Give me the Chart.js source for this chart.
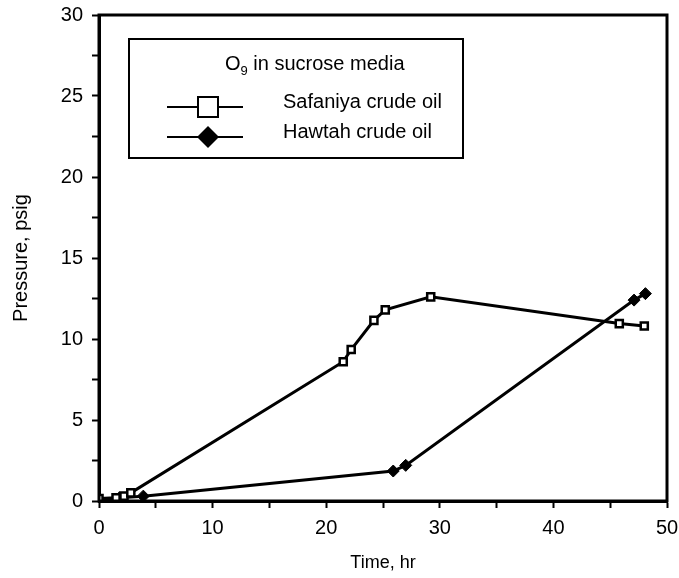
<!DOCTYPE html>
<html>
<head>
<meta charset="utf-8">
<script src="https://cdn.jsdelivr.net/npm/chart.js@4/dist/chart.umd.min.js"></script>
<style>
  html, body { margin: 0; padding: 0; background: #fff; }
  #wrap { width: 679px; height: 578px; }
</style>
</head>
<body>
<div id="wrap"><canvas id="chart" width="679" height="578"></canvas></div>
<script>
// --- dados ---
const seriesNames = ['Safaniya crude oil', 'Hawtah crude oil'];
const legendTitle = 'O';
const legendSub = '9';
const legendTitleRest = ' in sucrose media';

const safaniyaTime = [0, 1.5, 2.2, 2.8, 21.5, 22.2, 24.2, 25.2, 29.2, 45.8, 48.0];
const safaniyaPressure = [0.15, 0.2, 0.3, 0.5, 8.6, 9.35, 11.15, 11.8, 12.6, 10.95, 10.8];

const hawtahTime = [0, 1.8, 3.9, 25.9, 27.0, 47.1, 48.1];
const hawtahPressure = [0.1, 0.2, 0.3, 1.85, 2.2, 12.4, 12.8];

const xTickLabels = [0, 10, 20, 30, 40, 50];
const yTickLabels = [0, 5, 10, 15, 20, 25, 30];

const FONT = '"Liberation Sans", Arial, Helvetica, sans-serif';

function toPoints(xs, ys) {
    return xs.map((x, i) => ({ x: x, y: ys[i] }));
}

// moldura em volta da área do gráfico + legenda desenhada à mão
const framePlugin = {
    id: 'frame',
    afterDatasetsDraw(chart) {
        const { ctx, chartArea: a } = chart;
        ctx.save();
        ctx.strokeStyle = '#000';
        ctx.lineWidth = 3;
        ctx.strokeRect(a.left, a.top, a.right - a.left, a.bottom - a.top);
        ctx.restore();
    },
    afterDraw(chart) {
        const ctx = chart.ctx;
        ctx.save();
        // caixa
        ctx.strokeStyle = '#000';
        ctx.lineWidth = 2;
        ctx.strokeRect(129, 39, 334, 119);

        // título com subscrito
        ctx.fillStyle = '#000';
        ctx.textBaseline = 'alphabetic';
        ctx.font = '20px ' + FONT;
        let x = 225;
        ctx.fillText(legendTitle, x, 70);
        x += ctx.measureText(legendTitle).width;
        ctx.font = '13px ' + FONT;
        ctx.fillText(legendSub, x, 75);
        x += ctx.measureText(legendSub).width;
        ctx.font = '20px ' + FONT;
        ctx.fillText(legendTitleRest, x, 70);

        // linhas de amostra
        const rows = [107, 137];
        ctx.lineWidth = 2;
        rows.forEach(y => {
            ctx.beginPath();
            ctx.moveTo(167, y);
            ctx.lineTo(243, y);
            ctx.stroke();
        });
        // quadrado aberto
        ctx.fillStyle = '#fff';
        ctx.fillRect(198, 97, 20, 20);
        ctx.strokeRect(198, 97, 20, 20);
        // losango cheio
        ctx.fillStyle = '#000';
        ctx.beginPath();
        ctx.moveTo(208, 126);
        ctx.lineTo(219, 137);
        ctx.lineTo(208, 148);
        ctx.lineTo(197, 137);
        ctx.closePath();
        ctx.fill();

        ctx.textBaseline = 'middle';
        ctx.font = '20px ' + FONT;
        ctx.fillText(seriesNames[0], 283, 102);
        ctx.fillText(seriesNames[1], 283, 132);
        ctx.restore();
    }
};

const ctx = document.getElementById('chart').getContext('2d');

new Chart(ctx, {
    type: 'scatter',
    data: {
        datasets: [
            {
                label: seriesNames[0],
                data: toPoints(safaniyaTime, safaniyaPressure),
                showLine: true,
                borderColor: '#000',
                borderWidth: 3,
                pointStyle: 'rect',
                pointRadius: 5,
                pointBackgroundColor: '#fff',
                pointBorderColor: '#000',
                pointBorderWidth: 2.5
            },
            {
                label: seriesNames[1],
                data: toPoints(hawtahTime, hawtahPressure),
                showLine: true,
                borderColor: '#000',
                borderWidth: 3,
                pointStyle: 'rectRot',
                pointRadius: 6,
                pointBackgroundColor: '#000',
                pointBorderColor: '#000',
                pointBorderWidth: 1
            }
        ]
    },
    options: {
        responsive: false,
        animation: false,
        layout: { padding: { top: 15, right: 12, left: 0, bottom: 0 } },
        plugins: {
            legend: { display: false },
            tooltip: { enabled: false }
        },
        scales: {
            x: {
                type: 'linear',
                min: 0,
                max: 50,
                afterFit(scale) {
                    scale.height = 77;
                    scale.paddingLeft = 0;
                    scale.paddingRight = 0;
                },
                border: { display: true, color: '#000', width: 3 },
                grid: {
                    drawOnChartArea: false,
                    drawTicks: true,
                    tickLength: 7,
                    tickColor: '#000',
                    tickWidth: 2
                },
                ticks: {
                    stepSize: 5,
                    color: '#000',
                    padding: 8,
                    maxRotation: 0,
                    font: { family: FONT, size: 20 },
                    callback: v => xTickLabels.includes(v) ? String(v) : ''
                },
                title: {
                    display: true,
                    text: 'Time, hr',
                    color: '#000',
                    font: { family: FONT, size: 18 },
                    padding: { top: 0, bottom: 4 }
                }
            },
            y: {
                type: 'linear',
                min: 0,
                max: 30,
                afterFit(scale) {
                    scale.width = 99;
                    scale.paddingTop = 0;
                    scale.paddingBottom = 0;
                },
                border: { display: true, color: '#000', width: 3 },
                grid: {
                    drawOnChartArea: false,
                    drawTicks: true,
                    tickLength: 7,
                    tickColor: '#000',
                    tickWidth: 2
                },
                ticks: {
                    stepSize: 2.5,
                    color: '#000',
                    padding: 9,
                    font: { family: FONT, size: 20 },
                    callback: v => yTickLabels.includes(v) ? String(v) : ''
                },
                title: {
                    display: true,
                    text: 'Pressure, psig',
                    color: '#000',
                    font: { family: FONT, size: 20 },
                    padding: { top: 9, bottom: 0 }
                }
            }
        }
    },
    plugins: [framePlugin]
});
</script>
</body>
</html>
